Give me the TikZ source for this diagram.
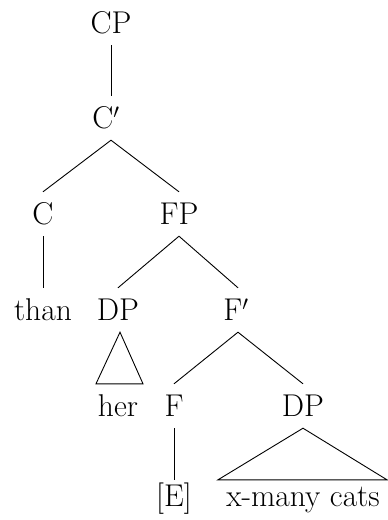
\documentclass[tikz,border=0pt]{standalone}
\usepackage{fontspec}
\begin{document}
\begin{tikzpicture}[x=1pt,y=-1pt,
  lbl/.style={anchor=base,text height=20pt,text depth=0pt,inner ysep=12pt,inner xsep=0pt,font=\fontsize{31.5}{38}\selectfont},
  leaf/.style={lbl,inner ysep=6pt},
  edge/.style={line width=0.9pt,line join=miter}]
\useasboundingbox (0,0) rectangle (388,520);
\node[lbl] (cp) at (111,33) {CP};
\node[lbl] (cbar) at (106,128) {C$'$};
\node[lbl] (c) at (43,224) {C};
\node[lbl] (fp) at (179,224) {FP};
\node[lbl] (than) at (43,320) {than};
\node[lbl] (dp1) at (118,320) {DP};
\node[lbl] (fbar) at (236,320) {F$'$};
\node[lbl] (her) at (118,416) {her};
\node[lbl] (f) at (174,416) {F};
\node[lbl] (dp2) at (303,416) {DP};
\node[leaf] (e) at (174,506) {[E]};
\node[leaf] (xmc) at (303,506) {x-many cats};
\draw[edge] (cp.south) -- ([xshift=5pt]cbar.north);
\draw[edge] (c.north) -- ([xshift=5pt]cbar.south) -- (fp.north);
\draw[edge] (c.south) -- (than.north);
\draw[edge] (dp1.north) -- (fp.south) -- ([xshift=2pt]fbar.north);
\draw[edge] ([xshift=2pt]dp1.south) -- ([xshift=-22pt]her.north) -- ([xshift=25pt]her.north) -- cycle;
\draw[edge] (f.north) -- ([xshift=2pt]fbar.south) -- (dp2.north);
\draw[edge] (f.south) -- (e.north);
\draw[edge] (dp2.south) -- ([xshift=-85pt]xmc.north) -- ([xshift=84pt]xmc.north) -- cycle;
\end{tikzpicture}
\end{document}
